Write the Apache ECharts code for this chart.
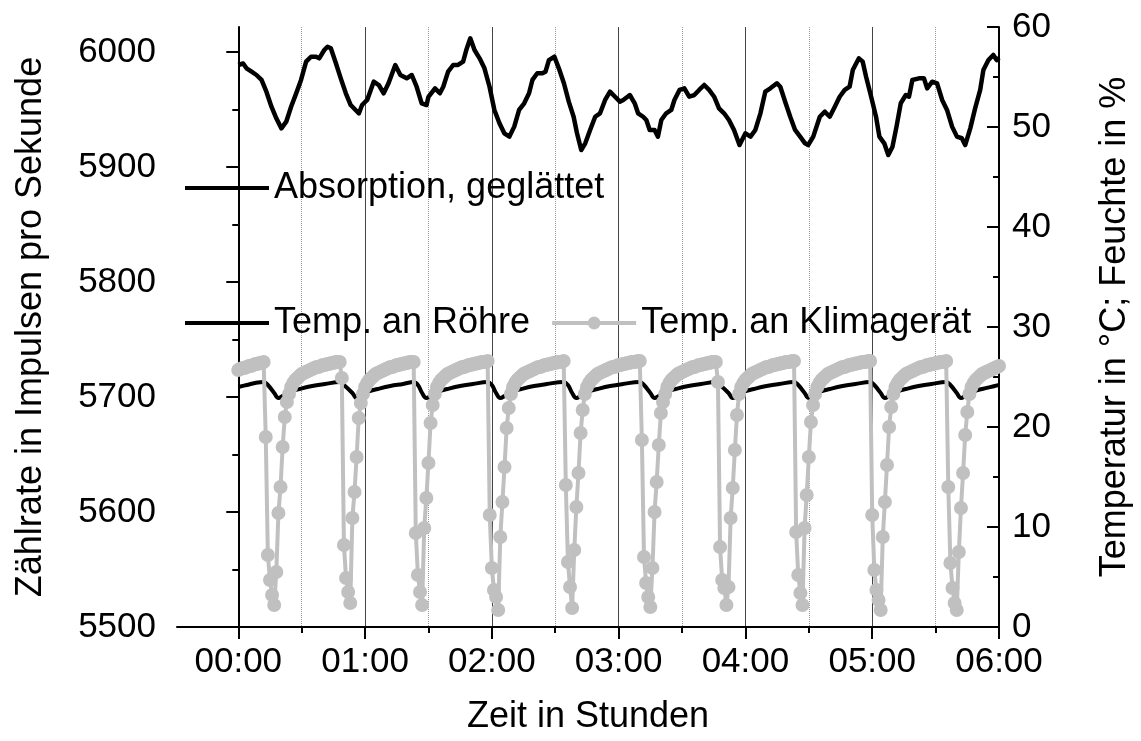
<!DOCTYPE html>
<html>
<head>
<meta charset="utf-8">
<script src="https://cdn.jsdelivr.net/npm/echarts@6/dist/echarts.min.js"></script>
<style>
  html, body { margin: 0; padding: 0; background: #fff; }
  #chart { width: 1141px; height: 741px; }
</style>
</head>
<body>
<div id="chart"></div>
<script>
var FONT = '"Liberation Sans", Arial, sans-serif';

// Absorption (Zählrate), Zeit in Minuten
var absZeit = [0, 2.3, 3.9, 6.3, 8.6, 11.0, 13.3, 15.7, 18.0, 20.4, 22.7, 25.0, 27.4, 29.7, 32.1, 34.4, 36.8, 38.3, 40.7, 42.2,
    43.8, 46.2, 48.5, 50.9, 53.2, 55.5, 57.1, 58.6, 61.0, 64.1, 66.5, 68.8, 71.1, 74.3, 76.7, 79.7, 82.1, 84.4, 86.8, 89.1,
    90.0, 93.1, 95.4, 97.0, 99.3, 101.7, 104.0, 106.4, 107.9, 109.8, 111.8, 114.2, 116.5, 118.9, 121.2, 123.6, 125.9, 128.3, 130.6, 132.9,
    135.3, 137.6, 139.2, 141.5, 143.9, 145.4, 147.0, 149.6, 151.7, 154.1, 156.4, 158.7, 160.3, 162.3, 164.2, 166.5, 168.9, 171.2, 173.6, 175.9,
    178.3, 180.6, 182.2, 185.3, 187.6, 189.2, 191.6, 193.1, 194.7, 197.0, 198.6, 200.2, 202.5, 204.9, 206.4, 208.8, 211.1, 213.4, 215.8, 218.1,
    220.5, 222.8, 225.2, 227.5, 229.9, 232.2, 234.6, 237.2, 240.0, 242.4, 244.7, 247.1, 249.4, 251.8, 254.9, 256.5, 258.8, 261.2, 263.5, 265.9,
    268.2, 269.7, 272.1, 275.2, 277.6, 279.9, 282.3, 284.6, 287.0, 289.3, 290.8, 293.7, 295.5, 297.1, 299.5, 301.8, 303.4, 305.7, 307.6, 309.6,
    311.5, 313.5, 315.9, 317.4, 319.0, 322.1, 324.5, 326.0, 328.4, 330.7, 333.1, 335.4, 337.8, 340.1, 342.4, 344.0, 346.4, 348.7, 351.1, 352.6,
    355.0, 357.3, 358.9, 360];
var absWert = [5988.7, 5990, 5985.8, 5982.9, 5980, 5975.7, 5965.5, 5952.4, 5942.3, 5933.6, 5939.4, 5952.4, 5964, 5975.7, 5991.6, 5995.9, 5995.9, 5994.5, 6001.7, 6004.6,
    6003.2, 5990.2, 5977.1, 5964.1, 5953.9, 5949.6, 5946.7, 5953.9, 5958.3, 5974.2, 5971.3, 5964.1, 5972.8, 5988.7, 5980, 5977.1, 5980, 5969.8, 5955.4, 5953.9,
    5961, 5968.4, 5964.1, 5969.8, 5982.9, 5988.7, 5988.7, 5991.6, 6001.7, 6011.9, 6001.7, 5994.5, 5985.8, 5969.8, 5949.6, 5938, 5929.3, 5926.4, 5935.1, 5949.6,
    5955.4, 5964.1, 5975.7, 5981.5, 5981.5, 5982.9, 5993, 5995.9, 5985.8, 5972.8, 5956.8, 5943.7, 5929.3, 5914.8, 5920.6, 5932.2, 5943.7, 5946.7, 5958.3, 5965.5,
    5961.1, 5956.8, 5958.3, 5962.6, 5955.4, 5946.7, 5943.7, 5940.9, 5932.2, 5932.2, 5926.4, 5940.9, 5946.7, 5949.6, 5958.3, 5967, 5968.4, 5961.1, 5962.6, 5967,
    5971.3, 5967, 5961.1, 5951, 5946.7, 5940.9, 5932.2, 5919.1, 5929.3, 5926.4, 5932.2, 5946.7, 5965.5, 5968.4, 5972.8, 5969.8, 5956.8, 5943.7, 5932.2, 5926.4,
    5920.6, 5919.1, 5926.4, 5943.7, 5948.1, 5943.7, 5952.4, 5961.1, 5967, 5969.8, 5984.3, 5994.5, 5991.6, 5978.5, 5961.1, 5943.7, 5926.4, 5920.6, 5910.4, 5917.7,
    5935.1, 5955.4, 5962.6, 5961.1, 5975.7, 5977.1, 5977.1, 5968.4, 5974.2, 5972.8, 5958.3, 5949.6, 5935.1, 5926.4, 5925, 5919.1, 5933.6, 5951, 5967, 5984.3,
    5993, 5997.4, 5993, 5995];

// Temp. an Röhre, Zeit in Minuten
var roehreZeit = [0, 4, 8, 12, 14, 17, 19, 21, 24, 29, 35, 41, 48,
    50, 54, 56, 58, 61, 66, 72, 78, 83,
    85, 87, 89, 91, 94, 99, 105, 111, 118,
    120, 122, 124, 126, 129, 134, 140, 146, 154,
    156, 158, 160, 162, 165, 170, 176, 182, 190,
    192, 195, 197, 199, 202, 207, 213, 219, 226,
    228, 232, 234, 236, 239, 244, 250, 256, 263,
    265, 268, 270, 272, 275, 280, 286, 292, 299,
    301, 304, 306, 308, 311, 316, 322, 328, 335,
    337, 340, 342, 344, 347, 352, 358, 360];
var roehreTemp = [24.0, 24.2, 24.4, 24.5, 24.2, 23.4, 22.9, 23.1, 23.5, 23.8, 24.1, 24.3, 24.5,
    24.2, 23.4, 22.9, 23.1, 23.5, 23.8, 24.1, 24.3, 24.5,
    24.2, 23.4, 22.9, 23.1, 23.5, 23.8, 24.1, 24.3, 24.5,
    24.2, 23.4, 22.9, 23.1, 23.5, 23.8, 24.1, 24.3, 24.5,
    24.2, 23.4, 22.9, 23.1, 23.5, 23.8, 24.1, 24.3, 24.5,
    24.2, 23.4, 22.9, 23.1, 23.5, 23.8, 24.1, 24.3, 24.5,
    24.2, 23.4, 22.9, 23.1, 23.5, 23.8, 24.1, 24.3, 24.5,
    24.2, 23.4, 22.9, 23.1, 23.5, 23.8, 24.1, 24.3, 24.5,
    24.2, 23.4, 22.9, 23.1, 23.5, 23.8, 24.1, 24.3, 24.5,
    24.2, 23.4, 22.9, 23.1, 23.5, 23.8, 24.1, 24.2];

// Temp. an Klimagerät, ein Wert pro Minute ab 00:00
var klimaTemp = [
    25.7, 25.8, 25.9, 25.9, 26.0, 26.1, 26.1, 26.2, 26.3, 26.3, 26.4, 26.4, 26.5,
    19.0, 7.2, 4.7, 3.2, 2.2, 5.5, 11.4, 14.0, 18.0, 21.0, 22.5,
    23.3, 24.0, 24.4, 24.7, 24.9, 25.1, 25.3, 25.4, 25.5, 25.6, 25.7, 25.8, 25.9, 26.0, 26.0, 26.1, 26.2, 26.2, 26.3, 26.3, 26.4, 26.4, 26.5, 26.5, 26.5,
    24.9, 8.2, 4.9, 3.5, 2.4, 10.9, 13.5, 17.0, 20.9, 22.4,
    23.3, 24.0, 24.4, 24.7, 24.9, 25.1, 25.3, 25.4, 25.5, 25.6, 25.7, 25.8, 25.9, 26.0, 26.0, 26.1, 26.2, 26.2, 26.3, 26.3, 26.4, 26.4, 26.5, 26.5, 26.5,
    9.4, 5.2, 3.5, 2.2, 9.9, 12.9, 16.4, 20.4, 22.2,
    23.3, 24.0, 24.4, 24.7, 24.9, 25.1, 25.3, 25.4, 25.5, 25.6, 25.7, 25.8, 25.9, 26.0, 26.0, 26.1, 26.2, 26.2, 26.3, 26.3, 26.4, 26.4, 26.5, 26.5, 26.5, 26.6,
    11.2, 5.9, 3.7, 3.0, 1.7, 9.0, 12.5, 16.0, 19.9, 21.9,
    23.3, 24.0, 24.4, 24.7, 24.9, 25.1, 25.3, 25.4, 25.5, 25.6, 25.7, 25.8, 25.9, 26.0, 26.0, 26.1, 26.2, 26.2, 26.3, 26.3, 26.4, 26.4, 26.5, 26.5, 26.5, 26.6,
    14.2, 6.5, 4.0, 1.9, 7.7, 12.0, 15.4, 19.4, 21.7,
    23.3, 24.0, 24.4, 24.7, 24.9, 25.1, 25.3, 25.4, 25.5, 25.6, 25.7, 25.8, 25.9, 26.0, 26.0, 26.1, 26.2, 26.2, 26.3, 26.3, 26.4, 26.4, 26.5, 26.5, 26.5, 26.6, 26.6,
    18.7, 7.0, 4.4, 3.0, 2.0, 5.9, 11.5, 14.5, 18.2, 21.4, 22.5,
    23.3, 24.0, 24.4, 24.7, 24.9, 25.1, 25.3, 25.4, 25.5, 25.6, 25.7, 25.8, 25.9, 26.0, 26.0, 26.1, 26.2, 26.2, 26.3, 26.3, 26.4, 26.4, 26.5, 26.5, 26.5,
    24.5, 8.0, 4.7, 3.9, 2.2, 4.0, 10.9, 13.9, 17.7, 21.2,
    23.3, 24.0, 24.4, 24.7, 24.9, 25.1, 25.3, 25.4, 25.5, 25.6, 25.7, 25.8, 25.9, 26.0, 26.0, 26.1, 26.2, 26.2, 26.3, 26.3, 26.4, 26.4, 26.5, 26.5, 26.5, 26.6, 26.6,
    9.5, 5.2, 3.4, 2.2, 9.9, 13.2, 17.0, 20.5, 22.2,
    23.3, 24.0, 24.4, 24.7, 24.9, 25.1, 25.3, 25.4, 25.5, 25.6, 25.7, 25.8, 25.9, 26.0, 26.0, 26.1, 26.2, 26.2, 26.3, 26.3, 26.4, 26.4, 26.5, 26.5, 26.5, 26.6, 26.6,
    11.2, 5.7, 3.7, 2.7, 1.7, 9.0, 12.5, 16.2, 20.0, 22.0,
    23.3, 24.0, 24.4, 24.7, 24.9, 25.1, 25.3, 25.4, 25.5, 25.6, 25.7, 25.8, 25.9, 26.0, 26.0, 26.1, 26.2, 26.2, 26.3, 26.3, 26.4, 26.4, 26.5, 26.5, 26.5, 26.6,
    14.0, 6.4, 3.9, 2.4, 1.7, 7.5, 11.9, 15.4, 19.2, 21.5,
    23.3, 24.0, 24.4, 24.7, 24.9, 25.1, 25.3, 25.4, 25.5, 25.6, 25.7, 25.8, 25.9, 26.0, 26.1
];

var stundenTicks = [0, 1, 2, 3, 4, 5, 6];
var zaehlTicks = [5500, 5600, 5700, 5800, 5900, 6000];

var chart = echarts.init(document.getElementById('chart'), null, {renderer: 'canvas'});

function paare(zeit, wert) {
    var out = [];
    for (var i = 0; i < wert.length; i++) {
        out.push([zeit[i] / 60, wert[i]]);
    }
    return out;
}
var klimaData = [];
for (var i = 0; i < klimaTemp.length; i++) {
    klimaData.push([i / 60, klimaTemp[i]]);
}

var schwarz = {color: '#000', width: 2};
var legendText = {fontFamily: FONT, fontSize: 36, color: '#000', lineHeight: 40};

var option = {
    animation: false,
    backgroundColor: '#fff',
    grid: {left: 177, right: 135, top: 27, bottom: 114, containLabel: false},
    legend: [
        {
            data: [{name: 'Absorption, geglättet', itemStyle: {opacity: 0}}],
            left: 183, top: 168, padding: 0,
            itemWidth: 84, itemHeight: 16,
            selectedMode: false,
            lineStyle: {width: 4},
            textStyle: legendText
        },
        {
            data: [{name: 'Temp. an Röhre', itemStyle: {opacity: 0}}, 'Temp. an Klimagerät'],
            left: 183, top: 303, padding: 0,
            itemWidth: 84, itemHeight: 16, itemGap: 20,
            selectedMode: false,
            lineStyle: {width: 4},
            textStyle: legendText
        }
    ],
    xAxis: {
        type: 'value',
        min: -29 / 60,
        max: 6,
        minInterval: 1,
        maxInterval: 1,
        splitNumber: 6,
        name: 'Zeit in Stunden',
        nameLocation: 'middle',
        nameGap: 72,
        nameTextStyle: {fontFamily: FONT, fontSize: 36, color: '#000'},
        axisLine: {show: true, lineStyle: schwarz},
        axisTick: {show: true, length: 12, lineStyle: schwarz, customValues: stundenTicks},
        minorTick: {show: true, splitNumber: 2, length: 6, lineStyle: schwarz},
        axisLabel: {
            customValues: stundenTicks,
            margin: 18,
            fontFamily: FONT, fontSize: 35, color: '#000',
            formatter: function (v) { return '0' + v + ':00'; }
        },
        splitLine: {show: true, lineStyle: {color: '#444', width: 1}},
        minorSplitLine: {show: true, lineStyle: {color: '#999', width: 1, type: 'dotted'}}
    },
    yAxis: [
        {
            type: 'value',
            position: 'left',
            min: 5500,
            max: 5500 + 600 / 1.15,
            interval: 100,
            name: 'Zählrate in Impulsen pro Sekunde',
            nameLocation: 'middle',
            nameGap: 128,
            nameTextStyle: {fontFamily: FONT, fontSize: 36, color: '#000'},
            axisLine: {show: true, lineStyle: schwarz},
            axisTick: {show: true, inside: false, length: 12, lineStyle: schwarz, customValues: zaehlTicks},
            minorTick: {show: true, splitNumber: 2, length: 6, lineStyle: schwarz},
            axisLabel: {
                customValues: zaehlTicks, margin: 21,
                fontFamily: FONT, fontSize: 35, color: '#000',
                formatter: function (v) { return String(v); }
            },
            splitLine: {show: false}
        },
        {
            type: 'value',
            position: 'right',
            min: 0,
            max: 60,
            interval: 10,
            name: 'Temperatur in °C; Feuchte in %',
            nameLocation: 'middle',
            nameGap: 98,
            nameTextStyle: {fontFamily: FONT, fontSize: 36, color: '#000'},
            axisLine: {show: true, lineStyle: schwarz},
            axisTick: {show: true, inside: true, length: 12, lineStyle: schwarz},
            minorTick: {show: true, splitNumber: 2, length: 6, lineStyle: schwarz},
            axisLabel: {margin: 13, fontFamily: FONT, fontSize: 35, color: '#000'},
            splitLine: {show: false}
        }
    ],
    series: [
        {
            name: 'Absorption, geglättet',
            type: 'line',
            yAxisIndex: 0,
            symbol: 'none',
            lineStyle: {color: '#000', width: 4.5, join: 'round'},
            itemStyle: {color: '#000'},
            data: paare(absZeit, absWert)
        },
        {
            name: 'Temp. an Röhre',
            type: 'line',
            yAxisIndex: 1,
            symbol: 'none',
            smooth: 0.4,
            lineStyle: {color: '#000', width: 4},
            itemStyle: {color: '#000'},
            data: paare(roehreZeit, roehreTemp)
        },
        {
            name: 'Temp. an Klimagerät',
            type: 'line',
            yAxisIndex: 1,
            symbol: 'circle',
            symbolSize: 14,
            showAllSymbol: true,
            lineStyle: {color: '#c0c0c0', width: 4},
            itemStyle: {color: '#c0c0c0'},
            data: klimaData
        }
    ]
};
chart.setOption(option);
</script>
</body>
</html>
